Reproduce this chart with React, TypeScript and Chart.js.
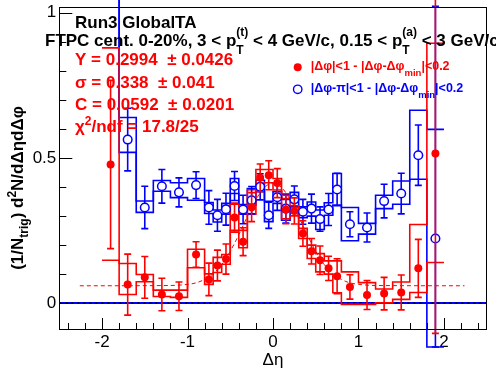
import React, { useEffect, useRef } from "react";
import { Chart, registerables } from "chart.js";
Chart.register(...registerables);

// ---------------- data ----------------
const binEdges = [-2.0, -1.8, -1.6, -1.4, -1.2, -1.0, -0.8, -0.7, -0.6, -0.5, -0.4, -0.3, -0.2, -0.1, 0.0, 0.1, 0.2, 0.3, 0.4, 0.5, 0.6, 0.7, 0.8, 1.0, 1.2, 1.4, 1.6, 1.8, 2.0];
const binCenters = [-1.9, -1.7, -1.5, -1.3, -1.1, -0.9, -0.75, -0.65, -0.55, -0.45, -0.35, -0.25, -0.15, -0.05, 0.05, 0.15, 0.25, 0.35, 0.45, 0.55, 0.65, 0.75, 0.9, 1.1, 1.3, 1.5, 1.7, 1.9];

// near side (red, filled)
const nearY = [0.477, 0.063, 0.088, 0.029, 0.023, 0.167, 0.081, 0.129, 0.151, 0.294, 0.211, 0.330, 0.431, 0.440, 0.413, 0.322, 0.317, 0.239, 0.178, 0.147, 0.119, 0.092, 0.055, 0.027, 0.032, 0.036, 0.119, 0.515];
const nearErrUp = [0.29, 0.105, 0.072, 0.056, 0.049, 0.044, 0.056, 0.053, 0.052, 0.05, 0.048, 0.05, 0.048, 0.05, 0.05, 0.049, 0.045, 0.044, 0.044, 0.049, 0.042, 0.06, 0.042, 0.05, 0.056, 0.06, 0.10, 0.62];
const nearErrDown = [0.29, 0.105, 0.072, 0.056, 0.049, 0.044, 0.056, 0.053, 0.052, 0.05, 0.048, 0.05, 0.048, 0.05, 0.05, 0.049, 0.045, 0.044, 0.044, 0.049, 0.042, 0.06, 0.042, 0.05, 0.056, 0.06, 0.10, 0.62];
const nearSysLo = [0.147, 0.029, 0.073, 0.022, 0.019, 0.121, 0.064, 0.105, 0.133, 0.25, 0.19, 0.306, 0.412, 0.414, 0.389, 0.29, 0.30, 0.222, 0.153, 0.107, 0.099, 0.035, -0.005, -0.005, 0.0, 0.012, 0.036, 0.139];
const nearSysHi = [0.879, 0.136, 0.098, 0.044, 0.044, 0.185, 0.10, 0.157, 0.167, 0.34, 0.25, 0.39, 0.46, 0.46, 0.429, 0.36, 0.335, 0.257, 0.199, 0.17, 0.145, 0.145, 0.107, 0.07, 0.048, 0.072, 0.27, 0.895];

// away side (blue, open)
const awayY = [1.35, 0.563, 0.329, 0.402, 0.381, 0.406, 0.329, 0.302, 0.323, 0.403, 0.322, 0.354, 0.400, 0.302, 0.364, 0.325, 0.357, 0.314, 0.325, 0.289, 0.322, 0.391, 0.271, 0.260, 0.351, 0.377, 0.509, 0.222];
const awayErrUp = [0.3, 0.108, 0.073, 0.058, 0.05, 0.046, 0.058, 0.055, 0.055, 0.05, 0.049, 0.047, 0.045, 0.045, 0.045, 0.05, 0.046, 0.043, 0.05, 0.042, 0.055, 0.056, 0.043, 0.05, 0.058, 0.07, 0.104, 0.80];
const awayErrDown = [0.3, 0.108, 0.073, 0.058, 0.05, 0.046, 0.058, 0.055, 0.055, 0.05, 0.049, 0.047, 0.045, 0.045, 0.045, 0.05, 0.046, 0.043, 0.05, 0.042, 0.055, 0.056, 0.043, 0.05, 0.058, 0.07, 0.104, 0.374];
const awaySysLo = [1.2, 0.519, 0.312, 0.385, 0.363, 0.354, 0.308, 0.279, 0.306, 0.377, 0.306, 0.337, 0.383, 0.28, 0.343, 0.285, 0.331, 0.294, 0.299, 0.253, 0.302, 0.337, 0.214, 0.237, 0.325, 0.34, 0.426, -0.152];
const awaySysHi = [1.5, 0.639, 0.351, 0.422, 0.414, 0.429, 0.346, 0.32, 0.343, 0.429, 0.339, 0.394, 0.423, 0.35, 0.383, 0.357, 0.381, 0.331, 0.348, 0.32, 0.345, 0.446, 0.329, 0.274, 0.371, 0.42, 0.664, 0.598];

// fit curve
const fitX = [-2.26, -1.2, -1.0, -0.9, -0.8, -0.7, -0.6, -0.5, -0.4, -0.3, -0.2, -0.1, 0.0, 0.1, 0.2, 0.3, 0.4, 0.5, 0.6, 0.7, 0.8, 0.9, 1.0, 1.2, 2.24];
const fitY = [0.059, 0.060, 0.064, 0.069, 0.081, 0.101, 0.132, 0.178, 0.235, 0.298, 0.356, 0.398, 0.413, 0.398, 0.356, 0.298, 0.235, 0.178, 0.132, 0.101, 0.081, 0.069, 0.064, 0.060, 0.059];

// axes
const xMin = -2.5, xMax = 2.5;
const yMin = -0.09, yMax = 1.02;
const xMinorTicks = [-2.4, -2.2, -2.0, -1.8, -1.6, -1.4, -1.2, -1.0, -0.8, -0.6, -0.4, -0.2, 0, 0.2, 0.4, 0.6, 0.8, 1.0, 1.2, 1.4, 1.6, 1.8, 2.0, 2.2, 2.4];
const xMajorTicks = [-2, -1, 0, 1, 2];
const xTickLabels = ["-2", "-1", "0", "1", "2"];
const yMinorTicks = [0.1, 0.2, 0.3, 0.4, 0.6, 0.7, 0.8, 0.9];
const yMajorTicks = [0, 0.5, 1];
const yTickLabels = ["0", "0.5", "1"];

const RED = "#ff0000";
const BLUE = "#0000ff";
const F = "'Liberation Sans', Arial, Helvetica, sans-serif";

type Seg = { t: string; k?: "sub" | "sup" | "subsup"; t2?: string };

function rich(ctx: CanvasRenderingContext2D, x: number, y: number, segs: Seg[], size: number, bold: boolean, color: string, ss: number, subOff: number, supOff: number, draw = true) {
  const w = bold ? "bold " : "";
  let cx = x;
  ctx.fillStyle = color;
  ctx.textBaseline = "alphabetic";
  ctx.textAlign = "left";
  for (const s of segs) {
    if (!s.k) {
      ctx.font = `${w}${size}px ${F}`;
      if (draw) ctx.fillText(s.t, cx, y);
      cx += ctx.measureText(s.t).width;
    } else {
      ctx.font = `${w}${ss}px ${F}`;
      if (s.k === "sub") {
        if (draw) ctx.fillText(s.t, cx, y + subOff);
        cx += ctx.measureText(s.t).width;
      } else if (s.k === "sup") {
        if (draw) ctx.fillText(s.t, cx, y - supOff);
        cx += ctx.measureText(s.t).width;
      } else {
        if (draw) {
          ctx.fillText(s.t, cx, y + subOff);
          ctx.fillText(s.t2 || "", cx, y - supOff);
        }
        cx += Math.max(ctx.measureText(s.t).width, ctx.measureText(s.t2 || "").width);
      }
    }
  }
  return cx - x;
}

function steps(vals: number[]) {
  const pts: { x: number; y: number }[] = [];
  vals.forEach((v, i) => {
    pts.push({ x: binEdges[i], y: v });
    pts.push({ x: binEdges[i + 1], y: v });
  });
  return pts;
}

const decorPlugin = {
  id: "rootDecor",
  beforeDatasetsDraw(chart: any) {
    const { ctx, chartArea: a, scales } = chart;
    const y0 = scales.y.getPixelForValue(0);
    ctx.save();
    ctx.strokeStyle = BLUE;
    ctx.lineWidth = 2;
    ctx.beginPath();
    ctx.moveTo(a.left, y0);
    ctx.lineTo(a.right, y0);
    ctx.stroke();
    ctx.strokeStyle = "#000060";
    ctx.setLineDash([2, 4]);
    ctx.beginPath();
    ctx.moveTo(a.left, y0);
    ctx.lineTo(a.right, y0);
    ctx.stroke();
    ctx.restore();
  },
  beforeDatasetDraw(chart: any, args: any) {
    const ds = chart.data.datasets[args.index];
    if (!ds.errUp) return;
    const { ctx, scales } = chart;
    const xs = scales.x, ys = scales.y;
    ctx.save();
    ctx.strokeStyle = ds.borderColor;
    ctx.lineWidth = 1.6;
    const r = ds.open ? ds.pointRadius : 0;
    ds.data.forEach((p: any, i: number) => {
      const px = xs.getPixelForValue(p.x);
      const py = ys.getPixelForValue(p.y);
      const top = ys.getPixelForValue(p.y + ds.errUp[i]);
      const bot = ys.getPixelForValue(p.y - ds.errDown[i]);
      ctx.beginPath();
      ctx.moveTo(px, top);
      ctx.lineTo(px, py - r);
      ctx.moveTo(px, py + r);
      ctx.lineTo(px, bot);
      ctx.moveTo(px - 3.5, top);
      ctx.lineTo(px + 3.5, top);
      ctx.moveTo(px - 3.5, bot);
      ctx.lineTo(px + 3.5, bot);
      ctx.stroke();
    });
    ctx.restore();
  },
  afterDraw(chart: any) {
    const { ctx, chartArea: a, scales } = chart;
    const xs = scales.x, ys = scales.y;
    ctx.save();
    // frame
    ctx.strokeStyle = "#000";
    ctx.lineWidth = 1;
    ctx.strokeRect(Math.round(a.left) + 0.5, Math.round(a.top) + 0.5, Math.round(a.right - a.left), Math.round(a.bottom - a.top));
    // ticks
    ctx.beginPath();
    xMinorTicks.forEach((v) => {
      const px = Math.round(xs.getPixelForValue(v)) + 0.5;
      ctx.moveTo(px, a.bottom);
      ctx.lineTo(px, a.bottom - 6);
    });
    xMajorTicks.forEach((v) => {
      const px = Math.round(xs.getPixelForValue(v)) + 0.5;
      ctx.moveTo(px, a.bottom);
      ctx.lineTo(px, a.bottom - 11);
    });
    yMinorTicks.forEach((v) => {
      const py = Math.round(ys.getPixelForValue(v)) + 0.5;
      ctx.moveTo(a.left, py);
      ctx.lineTo(a.left + 7, py);
    });
    yMajorTicks.forEach((v) => {
      const py = Math.round(ys.getPixelForValue(v)) + 0.5;
      ctx.moveTo(a.left, py);
      ctx.lineTo(a.left + 13, py);
    });
    ctx.stroke();

    // texts
    const big = 17;
    rich(ctx, 75, 28, [{ t: "Run3 GlobalTA" }], big, true, "#000", 11, 8, 9);
    rich(ctx, 45, 46, [
      { t: "FTPC cent. 0-20%, 3 < p" }, { k: "subsup", t: "T", t2: "(t)" },
      { t: " < 4 GeV/c, 0.15 < p" }, { k: "subsup", t: "T", t2: "(a)" },
      { t: " < 3 GeV/c" },
    ], big, true, "#000", 12, 8, 10);
    rich(ctx, 75, 65, [{ t: "Y = 0.2994  \u00b1 0.0426" }], big, true, RED, 11, 8, 8);
    rich(ctx, 75, 87.5, [{ t: "\u03c3 = 0.338  \u00b1 0.041" }], big, true, RED, 11, 8, 8);
    rich(ctx, 75, 110, [{ t: "C = 0.0592  \u00b1 0.0201" }], big, true, RED, 11, 8, 8);
    rich(ctx, 75, 132, [{ t: "\u03c7" }, { k: "sup", t: "2" }, { t: "/ndf = 17.8/25" }], big, true, RED, 12, 8, 7);

    // legend
    ctx.fillStyle = RED;
    ctx.beginPath();
    ctx.arc(297.7, 67.3, 4, 0, Math.PI * 2);
    ctx.fill();
    ctx.strokeStyle = BLUE;
    ctx.lineWidth = 1.4;
    ctx.fillStyle = "#fff";
    ctx.beginPath();
    ctx.arc(297.7, 89.3, 4.2, 0, Math.PI * 2);
    ctx.fill();
    ctx.stroke();
    rich(ctx, 310.7, 69.5, [{ t: "|\u0394\u03c6|<1 - |\u0394\u03c6-\u0394\u03c6" }, { k: "sub", t: "min" }, { t: "|<0.2" }], 12.5, true, RED, 9.5, 6.5, 6);
    rich(ctx, 310.7, 91.5, [{ t: "|\u0394\u03c6-\u03c0|<1 - |\u0394\u03c6-\u0394\u03c6" }, { k: "sub", t: "min" }, { t: "|<0.2" }], 12.5, true, BLUE, 9.5, 6.5, 6);

    // x title
    ctx.fillStyle = "#000";
    ctx.font = `17px ${F}`;
    ctx.textAlign = "center";
    ctx.fillText("\u0394\u03b7", (a.left + a.right) / 2, 365);

    // y title (rotated)
    const ySegs: Seg[] = [{ t: "(1/N" }, { k: "sub", t: "trig" }, { t: ") d" }, { k: "sup", t: "2" }, { t: "N/d\u0394\u03b7d\u0394\u03c6" }];
    const wy = rich(ctx, 0, 0, ySegs, big, true, "#000", 12, 5, 7, false);
    ctx.translate(23, 188 + wy / 2);
    ctx.rotate(-Math.PI / 2);
    rich(ctx, 0, 0, ySegs, big, true, "#000", 12, 5, 7);
    ctx.restore();
  },
};

export default function App() {
  const ref = useRef<HTMLCanvasElement | null>(null);
  useEffect(() => {
    if (!ref.current) return;
    const chart = new Chart(ref.current, {
      type: "scatter",
      data: {
        datasets: [
          { label: "away sys hi", data: steps(awaySysHi), showLine: true, borderColor: BLUE, borderWidth: 1.6, pointRadius: 0, clip: false, order: 8 } as any,
          { label: "away sys lo", data: steps(awaySysLo), showLine: true, borderColor: BLUE, borderWidth: 1.6, pointRadius: 0, clip: false, order: 7 } as any,
          { label: "near sys hi", data: steps(nearSysHi), showLine: true, borderColor: RED, borderWidth: 1.6, pointRadius: 0, clip: false, order: 6 } as any,
          { label: "near sys lo", data: steps(nearSysLo), showLine: true, borderColor: RED, borderWidth: 1.6, pointRadius: 0, clip: false, order: 5 } as any,
          { label: "fit", data: fitX.map((x, i) => ({ x, y: fitY[i] })), showLine: true, borderColor: RED, borderWidth: 1, borderDash: [4, 3], pointRadius: 0, cubicInterpolationMode: "monotone", order: 4 } as any,
          { label: "away", data: binCenters.map((x, i) => ({ x, y: awayY[i] })), errUp: awayErrUp, errDown: awayErrDown, open: true, borderColor: BLUE, backgroundColor: "#fff", pointRadius: 4.3, pointBorderWidth: 1.5, pointHoverRadius: 4.3, showLine: false, order: 3 } as any,
          { label: "near", data: binCenters.map((x, i) => ({ x, y: nearY[i] })), errUp: nearErrUp, errDown: nearErrDown, borderColor: RED, backgroundColor: RED, pointRadius: 4, pointBorderWidth: 0, showLine: false, order: 2 } as any,
        ],
      },
      options: {
        animation: false,
        responsive: false,
        devicePixelRatio: 1,
        events: [],
        layout: { padding: { top: 7, right: 9.3, left: 0, bottom: 0 } },
        plugins: { legend: { display: false }, tooltip: { enabled: false } },
        scales: {
          x: {
            type: "linear", min: xMin, max: xMax,
            grid: { display: false, drawTicks: false }, border: { display: false },
            ticks: {
              color: "#000", font: { family: F, size: 17 }, padding: 3, maxRotation: 0, autoSkip: false,
              callback: (v: number) => { const i = xMajorTicks.indexOf(Math.round(v)); return i >= 0 ? xTickLabels[i] : ""; },
            },
            afterBuildTicks: (s: any) => { s.ticks = xMajorTicks.map((v) => ({ value: v })); },
            afterFit: (s: any) => { s.height = 45; s.paddingLeft = 0; s.paddingRight = 0; },
          },
          y: {
            type: "linear", min: yMin, max: yMax,
            grid: { display: false, drawTicks: false }, border: { display: false },
            ticks: {
              color: "#000", font: { family: F, size: 17 }, padding: 3, autoSkip: false,
              callback: (v: number) => { const i = yMajorTicks.findIndex((t) => Math.abs(t - v) < 1e-6); return i >= 0 ? yTickLabels[i] : ""; },
            },
            afterBuildTicks: (s: any) => { s.ticks = yMajorTicks.map((v) => ({ value: v })); },
            afterFit: (s: any) => { s.width = 59.3; s.paddingTop = 0; s.paddingBottom = 0; },
          },
        },
      } as any,
      plugins: [decorPlugin as any],
    });
    return () => chart.destroy();
  }, []);
  return (
    <div style={{ position: "fixed", left: 0, top: 0, width: 496, height: 374, background: "#fff" }}>
      <canvas ref={ref} width={496} height={374} style={{ width: 496, height: 374 }} />
    </div>
  );
}
